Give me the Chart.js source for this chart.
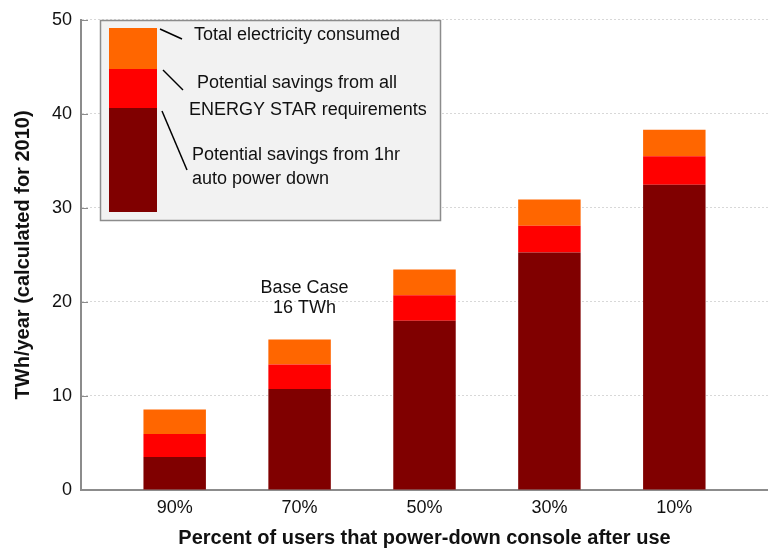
<!DOCTYPE html>
<html>
<head>
<meta charset="utf-8">
<script src="https://cdn.jsdelivr.net/npm/chart.js@4/dist/chart.umd.min.js"></script>
<style>
  html, body { margin: 0; padding: 0; background: #fff; }
  #wrap { width: 768px; height: 550px; }
</style>
</head>
<body>
<div id="wrap"><canvas id="chart" width="768" height="550"></canvas></div>
<script>
var categories = ['90%', '70%', '50%', '30%', '10%'];
// stacked segments, TWh/year
var autoPowerDown = [3.5, 10.75, 18.0, 25.25, 32.45];
var energyStarExtra = [2.45, 2.6, 2.7, 2.85, 3.05];
var remainder = [2.6, 2.65, 2.75, 2.8, 2.8];
var yTicks = [0, 10, 20, 30, 40, 50];
var seriesColors = ['#800000', '#ff0000', '#ff6600'];
var legendLines = [
  ['Total electricity consumed'],
  ['Potential savings from all', 'ENERGY STAR requirements'],
  ['Potential savings from 1hr', 'auto power down']
];
var baseCaseText = ['Base Case', '16 TWh'];

var FONT = '"Liberation Sans", Arial, Helvetica, sans-serif';
var TEXT = '#111';

function points(values) {
  return values.map(function (v, i) { return { x: i, y: v }; });
}

var innerTicks = {
  id: 'innerTicks',
  afterDraw: function (chart) {
    var ctx = chart.ctx;
    var y = chart.scales.y;
    var left = chart.chartArea.left;
    ctx.save();
    ctx.strokeStyle = '#8c8c8c';
    ctx.lineWidth = 1;
    yTicks.forEach(function (v) {
      if (v === 0) return;
      var py = Math.round(y.getPixelForValue(v)) + 0.5;
      ctx.beginPath();
      ctx.moveTo(left + 1, py);
      ctx.lineTo(left + 7, py);
      ctx.stroke();
    });
    ctx.restore();
  }
};

var annotations = {
  id: 'annotations',
  afterDraw: function (chart) {
    var ctx = chart.ctx;
    var xs = chart.scales.x, ys = chart.scales.y;
    ctx.save();
    ctx.font = '18px ' + FONT;
    ctx.fillStyle = TEXT;
    ctx.textBaseline = 'middle';

    // base case note above the 70% bar
    ctx.textAlign = 'center';
    var bx = xs.getPixelForValue(1) + 5;
    ctx.fillText(baseCaseText[0], bx, ys.getPixelForValue(21.5));
    ctx.fillText(baseCaseText[1], bx, ys.getPixelForValue(19.3));

    // legend box
    ctx.fillStyle = '#f2f2f2';
    ctx.fillRect(100.5, 20.5, 340, 200);
    ctx.strokeStyle = '#8c8c8c';
    ctx.lineWidth = 1.5;
    ctx.strokeRect(100.5, 20.5, 340, 200);

    ctx.fillStyle = seriesColors[2];
    ctx.fillRect(109, 28, 48, 41);
    ctx.fillStyle = seriesColors[1];
    ctx.fillRect(109, 69, 48, 39);
    ctx.fillStyle = seriesColors[0];
    ctx.fillRect(109, 108, 48, 104);

    ctx.strokeStyle = '#000';
    ctx.lineWidth = 1.5;
    [[160, 29, 182, 39], [163, 70, 183, 90], [162, 111, 187, 170]].forEach(function (l) {
      ctx.beginPath();
      ctx.moveTo(l[0], l[1]);
      ctx.lineTo(l[2], l[3]);
      ctx.stroke();
    });

    ctx.fillStyle = TEXT;
    ctx.textAlign = 'left';
    ctx.fillText(legendLines[0][0], 194, 35.5);
    ctx.fillText(legendLines[1][0], 197, 83.5);
    ctx.fillText(legendLines[1][1], 189, 110.5);
    ctx.fillText(legendLines[2][0], 192, 155.5);
    ctx.fillText(legendLines[2][1], 192, 179.5);
    ctx.restore();
  }
};

new Chart(document.getElementById('chart'), {
  type: 'bar',
  plugins: [innerTicks, annotations],
  data: {
    datasets: [
      { label: legendLines[2].join(' '), data: points(autoPowerDown), backgroundColor: seriesColors[0] },
      { label: legendLines[1].join(' '), data: points(energyStarExtra), backgroundColor: seriesColors[1] },
      { label: legendLines[0][0], data: points(remainder), backgroundColor: seriesColors[2] }
    ]
  },
  options: {
    responsive: false,
    animation: false,
    devicePixelRatio: 1,
    layout: { padding: { top: 17, left: 0, right: 0, bottom: 0 } },
    datasets: { bar: { barPercentage: 1, categoryPercentage: 0.5, borderWidth: 0 } },
    plugins: { legend: { display: false }, tooltip: { enabled: false } },
    scales: {
      x: {
        type: 'linear',
        stacked: true,
        offset: false,
        min: -0.75,
        max: 4.75,
        afterBuildTicks: function (scale) {
          scale.ticks = categories.map(function (c, i) { return { value: i }; });
        },
        afterFit: function (scale) { scale.height = 60; },
        grid: { display: false, drawTicks: false, offset: false },
        border: { display: true, color: '#8c8c8c', width: 2 },
        ticks: {
          padding: 7,
          color: TEXT,
          font: { family: FONT, size: 18 },
          callback: function (v) { return categories[v]; }
        },
        title: {
          display: true,
          text: 'Percent of users that power-down console after use',
          color: TEXT,
          padding: { top: 0, bottom: 0 },
          font: { family: FONT, size: 20, weight: 'bold' }
        }
      },
      y: {
        stacked: true,
        min: yTicks[0],
        max: yTicks[yTicks.length - 1],
        afterBuildTicks: function (scale) {
          scale.ticks = yTicks.map(function (v) { return { value: v }; });
        },
        afterFit: function (scale) { scale.width = 81; },
        grid: { color: '#d8d8d8', lineWidth: 1, drawTicks: false },
        border: { display: true, color: '#8c8c8c', width: 2, dash: [2, 2] },
        ticks: {
          padding: 9,
          color: TEXT,
          font: { family: FONT, size: 18 }
        },
        title: {
          display: true,
          text: 'TWh/year (calculated for 2010)',
          color: TEXT,
          padding: { top: 11, bottom: 0 },
          font: { family: FONT, size: 20, weight: 'bold' }
        }
      }
    }
  }
});
</script>
</body>
</html>
